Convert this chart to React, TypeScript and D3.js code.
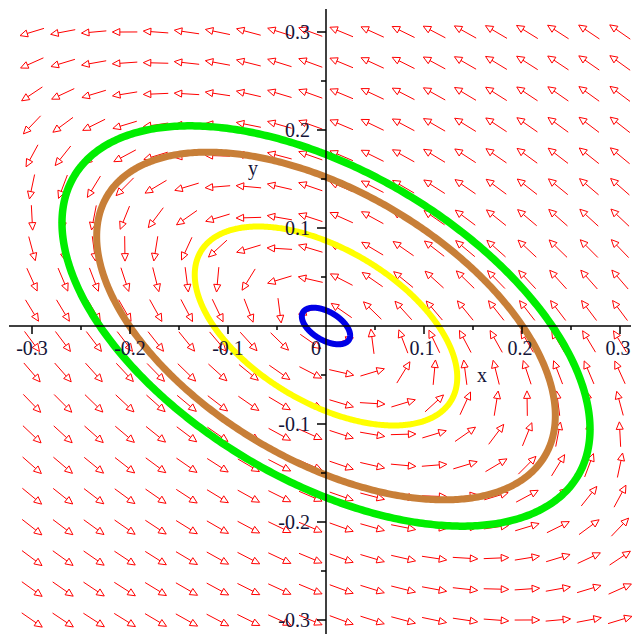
import React from "react";
import * as d3 from "d3";

// linear system  x' = a x + b y,  y' = c x + d y
const sysA = -0.68;
const sysB = -1.74;
const sysC = 1.0;
const sysD = 0.68;

// trajectories: start points on the positive y axis
const startY = [0.175, 0.152, 0.087, 0.016];
const curveColors = ["#00ee00", "#c87f38", "#ffff00", "#0000e6"];
const curveWidths = [7.5, 7, 6, 6];

// direction field grid
const gridCount = 20;
const gridMin = -0.3;
const gridMax = 0.3;

const majorTicks = [-0.3, -0.2, -0.1, 0.1, 0.2, 0.3];
const minorTicks = [-0.25, -0.15, -0.05, 0.05, 0.15, 0.25];
const tickLabels = ["-0.3", "-0.2", "-0.1", "0.1", "0.2", "0.3"];

const W = 634;
const H = 637;

const x = d3.scaleLinear().domain([-0.3, 0.3]).range([32, 620]);
const y = d3.scaleLinear().domain([-0.3, 0.3]).range([620, 32]);

function field(px: number, py: number): [number, number] {
  return [sysA * px + sysB * py, sysC * px + sysD * py];
}

function trajectory(y0: number): [number, number][] {
  const omega = Math.sqrt(sysA * sysD * -1 + sysB * sysC * -1 + 0) || 1;
  const det = sysA * sysD - sysB * sysC;
  const period = (2 * Math.PI) / Math.sqrt(det || omega);
  const dt = 0.01;
  const steps = Math.ceil(period / dt) + 2;
  let p: [number, number] = [0, y0];
  const pts: [number, number][] = [p];
  for (let i = 0; i < steps; i++) {
    const k1 = field(p[0], p[1]);
    const k2 = field(p[0] + (dt / 2) * k1[0], p[1] + (dt / 2) * k1[1]);
    const k3 = field(p[0] + (dt / 2) * k2[0], p[1] + (dt / 2) * k2[1]);
    const k4 = field(p[0] + dt * k3[0], p[1] + dt * k3[1]);
    p = [
      p[0] + (dt / 6) * (k1[0] + 2 * k2[0] + 2 * k3[0] + k4[0]),
      p[1] + (dt / 6) * (k1[1] + 2 * k2[1] + 2 * k3[1] + k4[1]),
    ];
    pts.push(p);
  }
  return pts;
}

const Arrow = ({ gx, gy }: { gx: number; gy: number }) => {
  const v = field(gx, gy);
  let dx = v[0];
  let dy = -v[1];
  const m = Math.hypot(dx, dy) || 1;
  dx /= m;
  dy /= m;
  const L = 25;
  const cx = x(gx);
  const cy = y(gy);
  const tx = cx - (dx * L) / 2;
  const ty = cy - (dy * L) / 2;
  const hx = cx + (dx * L) / 2;
  const hy = cy + (dy * L) / 2;
  const hl = 7.5;
  const hw = 3.5;
  const bx = hx - dx * hl;
  const by = hy - dy * hl;
  const head = `M${hx},${hy}L${bx - dy * hw},${by + dx * hw}L${bx + dy * hw},${by - dx * hw}Z`;
  return (
    <g>
      <line x1={tx} y1={ty} x2={bx} y2={by} stroke="#ff0000" strokeWidth={1} />
      <path d={head} fill="none" stroke="#ff0000" strokeWidth={1} />
    </g>
  );
};

export default function App() {
  const grid = d3.range(gridCount).map((i) => gridMin + (i * (gridMax - gridMin)) / (gridCount - 1));
  const line = d3
    .line<[number, number]>()
    .x((d) => x(d[0]))
    .y((d) => y(d[1]));

  const font = "'Liberation Serif', 'DejaVu Serif', serif";
  const textColor = "#141438";

  return (
    <svg
      width={W}
      height={H}
      style={{ position: "absolute", left: 0, top: 0, background: "#fff" }}
    >
      <rect width={W} height={H} fill="#fff" />
      {/* direction field */}
      <g>
        {grid.map((gx) =>
          grid.map((gy) => <Arrow key={`${gx}-${gy}`} gx={gx} gy={gy} />)
        )}
      </g>

      {/* solution curves */}
      <g fill="none">
        {startY.map((y0, i) => (
          <path
            key={i}
            d={line(trajectory(y0)) || ""}
            stroke={curveColors[i]}
            strokeWidth={curveWidths[i]}
            strokeLinejoin="round"
          />
        ))}
      </g>

      {/* axes */}
      <g stroke="#000" strokeWidth={1.5}>
        <line x1={9} y1={y(0)} x2={631} y2={y(0)} />
        <line x1={x(0)} y1={9} x2={x(0)} y2={634} />
        {majorTicks.map((t) => (
          <line key={"mx" + t} x1={x(t)} y1={y(0)} x2={x(t)} y2={y(0) + 8} />
        ))}
        {minorTicks.map((t) => (
          <line key={"nx" + t} x1={x(t)} y1={y(0)} x2={x(t)} y2={y(0) + 4} />
        ))}
        {majorTicks.map((t) => (
          <line key={"my" + t} x1={x(0) - 9} y1={y(t)} x2={x(0)} y2={y(t)} />
        ))}
        {minorTicks.map((t) => (
          <line key={"ny" + t} x1={x(0) - 5} y1={y(t)} x2={x(0)} y2={y(t)} />
        ))}
      </g>

      <g fontFamily={font} fontSize={20} fill={textColor}>
        {majorTicks.map((t, i) => (
          <text key={"lx" + t} x={x(t) - (t > 0 ? 2 : 0)} y={y(0) + 29} textAnchor="middle">
            {tickLabels[i]}
          </text>
        ))}
        <text x={316} y={y(0) + 29} textAnchor="middle">
          0
        </text>
        {majorTicks.map((t, i) => (
          <text key={"ly" + t} x={x(0) - 16} y={y(t) + 7} textAnchor="end">
            {tickLabels[i]}
          </text>
        ))}
        <text x={482} y={382} textAnchor="middle">
          x
        </text>
        <text x={253} y={175} textAnchor="middle">
          y
        </text>
      </g>
    </svg>
  );
}
